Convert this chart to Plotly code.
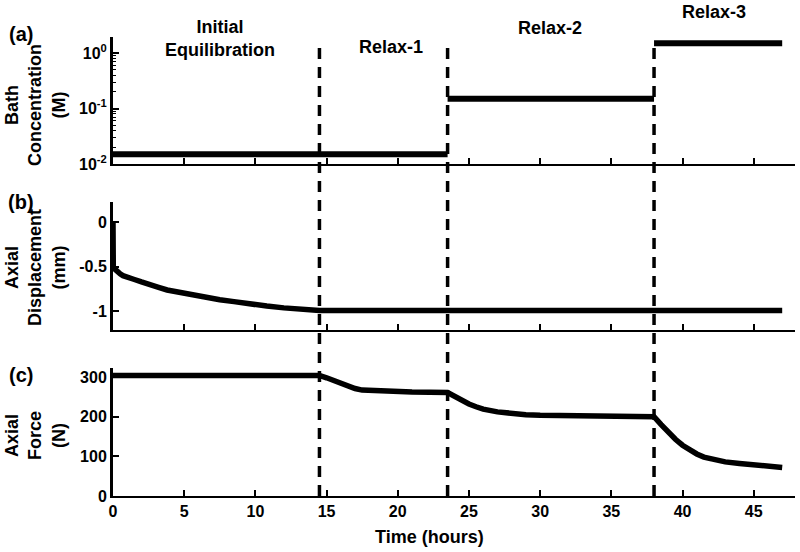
import plotly.graph_objects as go

# ---------------- data ----------------
phase_boundaries = [14.5, 23.5, 38.0]
phase_labels = ["Initial<br>Equilibration", "Relax-1", "Relax-2", "Relax-3"]
phase_label_x = [7.5, 19.5, 30.7, 42.2]

bath_seg_start = [0.0, 23.5, 38.0]
bath_seg_end = [23.5, 38.0, 47.0]
bath_conc = [0.015, 0.15, 1.5]

disp_time = [0, 0.02, 0.15, 0.3, 0.5, 0.7, 1.0, 1.45, 2.0, 2.5, 3.2, 3.8, 5.0, 6.15, 7.5, 8.5, 9.7, 10.8, 12.0, 13.2, 14.5, 20, 30, 40, 47]
disp_vals = [0, -0.50, -0.53, -0.56, -0.58, -0.60, -0.62, -0.64, -0.67, -0.70, -0.73, -0.76, -0.80, -0.84, -0.87, -0.89, -0.92, -0.94, -0.96, -0.975, -0.99, -0.99, -0.99, -0.99, -0.99]

force_time = [0, 14.5, 15, 15.5, 16, 16.5, 17, 17.5, 18, 19, 21, 23.5,
              24, 24.5, 25, 25.5, 26, 27, 28, 29, 30, 32, 35, 38,
              38.5, 39, 39.5, 40, 40.5, 41, 41.5, 42, 43, 44, 45, 46, 47]
force_vals = [304, 304, 298, 291, 284, 277, 271, 267, 266, 265, 262, 261,
              250, 240, 232, 225, 219, 212, 208, 205, 203.5, 202, 200, 200,
              180, 159, 143, 128, 116, 106, 98, 93, 86, 82, 78, 75, 72]

time_ticks = [0, 5, 10, 15, 20, 25, 30, 35, 40, 45]
bath_ticks = [0.01, 0.1, 1]
bath_ticktext = ["10<sup>-2</sup>", "10<sup>-1</sup>", "10<sup>0</sup>"]
disp_ticks = [-1, -0.5, 0]
disp_ticktext = ["-1", "-0.5", "0"]
force_ticks = [0, 100, 200, 300]

# ---------------- figure ----------------
FONT = "Liberation Sans, Arial, Helvetica, sans-serif"
LW = 5.5

bx, by = [], []
for s, e, c in zip(bath_seg_start, bath_seg_end, bath_conc):
    bx += [s, e, None]
    by += [c, c, None]

fig = go.Figure()
fig.add_trace(go.Scatter(x=bx, y=by, mode="lines", line=dict(color="black", width=6),
                         xaxis="x", yaxis="y", showlegend=False))
fig.add_trace(go.Scatter(x=disp_time, y=disp_vals, mode="lines",
                         line=dict(color="black", width=LW),
                         xaxis="x2", yaxis="y2", showlegend=False))
fig.add_trace(go.Scatter(x=force_time, y=force_vals, mode="lines",
                         line=dict(color="black", width=LW),
                         xaxis="x3", yaxis="y3", showlegend=False))

tickfont = dict(family=FONT, size=16, color="black", weight="bold")
xcommon = dict(range=[0, 47.9], showline=True, linewidth=2, linecolor="black",
               ticks="inside", ticklen=6, tickwidth=2, tickcolor="black",
               tickvals=time_ticks, showgrid=False, zeroline=False, tickfont=tickfont)
ycommon = dict(showline=True, linewidth=3, linecolor="black",
               ticks="inside", ticklen=6, tickwidth=2, tickcolor="black",
               showgrid=False, zeroline=False, tickfont=tickfont)

minor_vals = [m * 10 ** p for p in (-2, -1, 0) for m in range(2, 10)]

fig.update_layout(
    width=800, height=552,
    margin=dict(l=113, r=5, t=37, b=56),
    paper_bgcolor="white", plot_bgcolor="white",
    font=dict(family=FONT, color="black"),
    xaxis=dict(**xcommon, domain=[0, 1], anchor="y", showticklabels=False, matches="x3"),
    xaxis2=dict(**xcommon, domain=[0, 1], anchor="y2", showticklabels=False, matches="x3"),
    xaxis3=dict(**xcommon, domain=[0, 1], anchor="y3", showticklabels=True),
    yaxis=dict(**ycommon, domain=[0.7233, 1.0], anchor="x", type="log", range=[-2, 0.29],
               tickvals=bath_ticks, ticktext=bath_ticktext,
               minor=dict(ticks="inside", ticklen=3, tickwidth=1, tickcolor="black",
                          tickmode="array", tickvals=minor_vals, showgrid=False)),
    yaxis2=dict(**ycommon, domain=[0.3617, 0.6405], anchor="x2", range=[-1.207, 0.223],
                tickvals=disp_ticks, ticktext=disp_ticktext),
    yaxis3=dict(**ycommon, domain=[0.0, 0.2789], anchor="x3", range=[0, 322.7],
                tickvals=force_ticks),
)

# dashed phase boundaries
for b in phase_boundaries:
    fig.add_shape(type="line", xref="x3", yref="paper", x0=b, x1=b, y0=0, y1=0.9935,
                  line=dict(color="black", width=3.5, dash="11px,8px"), layer="above")

# helper: pixel to paper
PT, PH = 37, 459
def py(pix):
    return (PT + PH - pix) / PH
def px(pix):
    return (pix - 113) / 682

lblfont = dict(family=FONT, size=18, color="black", weight="bold")
phase_label_y = [39, 47, 28, 12.5]
for t, x, y in zip(phase_labels, phase_label_x, phase_label_y):
    fig.add_annotation(text=t, x=x, xref="x3", y=py(y), yref="paper", showarrow=False,
                       xanchor="center", yanchor="middle", font=lblfont)

# axis titles
titles = ["Bath<br>Concentration<br>(M)", "Axial<br>Displacement<br>(mm)", "Axial<br>Force<br>(N)"]
title_y = [105, 268, 436]
for t, y in zip(titles, title_y):
    fig.add_annotation(text=t, x=px(35), xref="paper", y=py(y), yref="paper", showarrow=False,
                       textangle=-90, xanchor="center", yanchor="middle", font=lblfont)

# panel letters
letters = ["(a)", "(b)", "(c)"]
letter_y = [34, 202, 375]
for t, y in zip(letters, letter_y):
    fig.add_annotation(text=t, x=px(21), xref="paper", y=py(y), yref="paper", showarrow=False,
                       xanchor="center", yanchor="middle",
                       font=dict(family=FONT, size=20, color="black", weight="bold"))

fig.add_annotation(text="Time (hours)", x=px(429), xref="paper", y=py(537), yref="paper",
                   showarrow=False, xanchor="center", yanchor="middle", font=lblfont)

fig.write_html("out.html", config={"displayModeBar": False},
               post_script="document.body.style.margin='0';document.body.style.overflow='hidden';")
